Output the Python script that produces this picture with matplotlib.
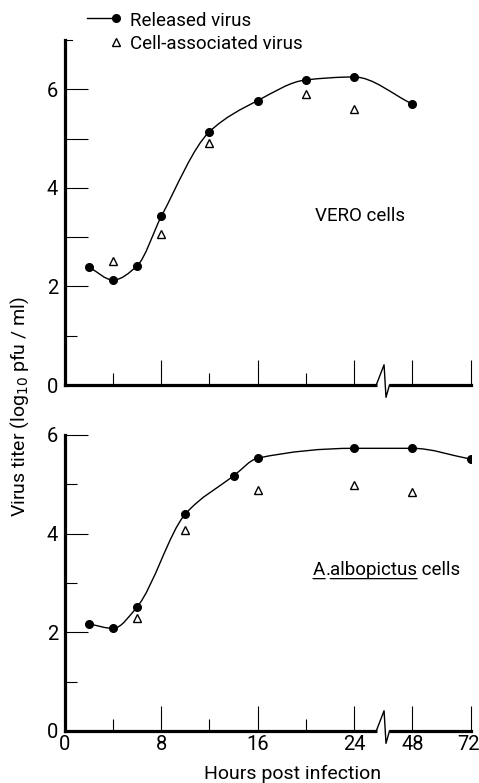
"""
Virus growth curves in VERO and A. albopictus cells
"""

import numpy as np
import matplotlib
matplotlib.use('Agg')
import matplotlib.pyplot as plt
import matplotlib.transforms as mtransforms
from matplotlib.path import Path
from matplotlib.patches import PathPatch
from matplotlib.lines import Line2D

plt.rcParams['font.family'] = ['Roboto', 'DejaVu Sans']
FS = 13.5

# --- data (hours post infection, log10 pfu/ml) ---
vero_released_h = [2, 4, 6, 8, 12, 16, 20, 24, 48]
vero_released = [2.39, 2.13, 2.42, 3.42, 5.14, 5.77, 6.19, 6.25, 5.70]
vero_cell_h = [4, 8, 12, 20, 24]
vero_cell = [2.52, 3.06, 4.92, 5.91, 5.61]

albo_released_h = [2, 4, 6, 10, 14, 16, 24, 48, 72]
albo_released = [2.17, 2.08, 2.52, 4.40, 5.17, 5.53, 5.73, 5.73, 5.51]
albo_cell_h = [6, 10, 16, 24, 48]
albo_cell = [2.29, 4.08, 4.89, 4.99, 4.85]

x_major = [0, 8, 16, 24, 48, 72]
x_minor = [4, 12, 20]

# broken time axis: linear up to 24 h, compressed afterwards
BREAK_H = [0, 24, 48, 72]
BREAK_POS = [0, 24, 28.86, 33.72]


def to_pos(hours):
    return np.interp(hours, BREAK_H, BREAK_POS)


def smooth_curve(xs, ys):
    """Monotone (pchip-style) Hermite curve through the points, as Bezier path"""
    x = np.asarray(xs, float)
    y = np.asarray(ys, float)
    h = np.diff(x)
    d = np.diff(y) / h
    m = np.zeros_like(y)
    m[0], m[-1] = d[0], d[-1]
    for i in range(1, len(x) - 1):
        if d[i - 1] * d[i] > 0:
            w1 = 2 * h[i] + h[i - 1]
            w2 = h[i] + 2 * h[i - 1]
            m[i] = (w1 + w2) / (w1 / d[i - 1] + w2 / d[i])
    verts = [(x[0], y[0])]
    codes = [Path.MOVETO]
    for i in range(len(x) - 1):
        verts += [(x[i] + h[i] / 3, y[i] + m[i] * h[i] / 3),
                  (x[i + 1] - h[i] / 3, y[i + 1] - m[i + 1] * h[i] / 3),
                  (x[i + 1], y[i + 1])]
        codes += [Path.CURVE4] * 3
    return Path(verts, codes)


def draw_panel(ax, rel_h, rel, cell_h, cell, ytop, long_minor, show_xlabels):
    ax.set_xlim(0, BREAK_POS[-1])
    ax.set_ylim(0, ytop)
    for s in ['top', 'right']:
        ax.spines[s].set_visible(False)
    for s in ['left', 'bottom']:
        ax.spines[s].set_linewidth(2.3)

    xr = to_pos(rel_h)
    ax.add_patch(PathPatch(smooth_curve(xr, rel), fill=False, lw=1.0,
                           ec='black', capstyle='round'))
    ax.plot(xr, rel, 'o', color='black', ms=5.5, zorder=3)
    ax.plot(to_pos(cell_h), cell, '^', mfc='white', mec='black', mew=1.0,
            ms=6, zorder=3)

    # y ticks
    ymajor = sorted([0, 2, 4, 6] + long_minor)
    ax.set_yticks(ymajor)
    ax.set_yticklabels([str(v) if v % 2 == 0 else '' for v in ymajor])
    ax.set_yticks([v for v in [1, 3, 5] if v not in long_minor], minor=True)
    ax.tick_params(axis='y', which='major', direction='in', length=16.5,
                   width=0.8, labelsize=14.5, pad=5)
    ax.tick_params(axis='y', which='minor', direction='in', length=8.5,
                   width=0.8)

    # x ticks
    ax.set_xticks(to_pos(x_major))
    ax.set_xticks(to_pos(x_minor), minor=True)
    ax.set_xticklabels([str(h) for h in x_major] if show_xlabels else [])
    ax.tick_params(axis='x', which='major', direction='in', length=18,
                   width=0.8, labelsize=14.5, pad=3)
    ax.tick_params(axis='x', which='minor', direction='in', length=8.5,
                   width=0.8)

    # axis break mark
    ax.plot([25.9, 26.9], [0, 0], color='white', lw=3.5, clip_on=False,
            zorder=4, solid_capstyle='butt')
    ax.plot([25.85, 26.5, 26.66, 26.95], [0, 0.41, -0.25, 0], color='black',
            lw=1.0, clip_on=False, zorder=5)


fig = plt.figure(figsize=(4.79, 7.83), dpi=100)
W, H = 479.0, 783.0

ax_top = fig.add_axes([65 / W, 1 - 385 / H, 406 / W, 345 / H])
ax_bot = fig.add_axes([65 / W, 1 - 731 / H, 406 / W, 296 / H])

draw_panel(ax_top, vero_released_h, vero_released, vero_cell_h, vero_cell,
           7, [3, 5], False)
draw_panel(ax_bot, albo_released_h, albo_released, albo_cell_h, albo_cell,
           6, [], True)

# keep the last hour label inside the figure
last = ax_bot.get_xticklabels()[-1]
last.set_transform(last.get_transform() +
                   mtransforms.ScaledTranslation(-3 / 100, 0,
                                                 fig.dpi_scale_trans))

# small end tick at top of upper axis
ax_top.plot([0, 0.6], [7, 7], color='black', lw=0.8, clip_on=False)

# legend drawn by hand
fig.add_artist(Line2D([87 / W, 113 / W], [1 - 18 / H, 1 - 18 / H],
                      color='black', lw=1.0))
fig.add_artist(Line2D([116 / W], [1 - 18 / H], marker='o', color='black',
                      ms=5.5))
fig.add_artist(Line2D([116 / W], [1 - 42 / H], marker='^', mfc='white',
                      mec='black', mew=1.0, ms=6))
fig.text(130 / W, 1 - 26 / H, 'Released virus', fontsize=FS, va='baseline')
fig.text(130 / W, 1 - 49 / H, 'Cell-associated virus', fontsize=FS,
         va='baseline')

# panel labels
fig.text(315 / W, 1 - 221 / H, 'VERO cells', fontsize=FS, va='baseline')
t1 = fig.text(313 / W, 1 - 575 / H, 'A', fontsize=FS, va='baseline')
t2 = ax_bot.annotate('.', xy=(1, 0), xycoords=t1, va='bottom', fontsize=FS)
t3 = ax_bot.annotate('albopictus', xy=(1, 0), xycoords=t2, va='bottom',
                     fontsize=FS)
ax_bot.annotate(' cells', xy=(1, 0), xycoords=t3, va='bottom', fontsize=FS)
for t in (t1, t3):
    ax_bot.annotate('', xy=(0, 0.02), xycoords=t, xytext=(1, 0.02),
                    textcoords=t,
                    arrowprops=dict(arrowstyle='-', lw=0.9, color='black',
                                    shrinkA=0, shrinkB=0))

# axis titles
fig.text(20 / W, 1 - 407 / H, 'Virus titer (log$_{10}$ pfu / ml)',
         fontsize=14, rotation=90, ha='center', va='center')
fig.text(293 / W, 1 - 779 / H, 'Hours post infection', fontsize=14,
         ha='center', va='baseline')

fig.savefig('out.png', dpi=100)
